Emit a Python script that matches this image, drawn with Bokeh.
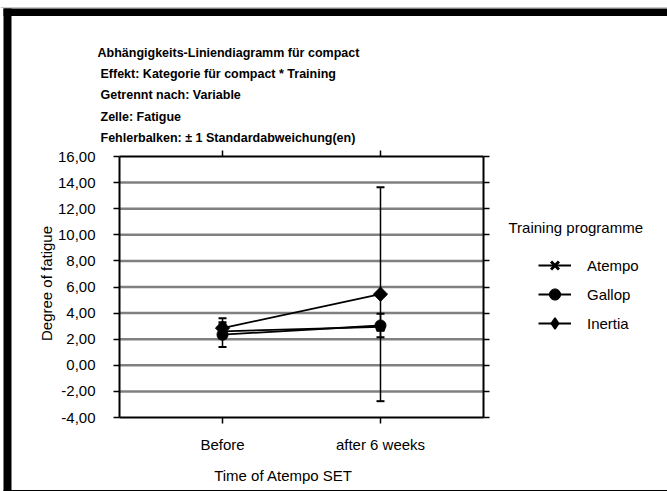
import numpy as np
from bokeh.plotting import figure
from bokeh.models import (ColumnDataSource, Range1d, FixedTicker, LinearAxis, Whisker, TeeHead,
                          Legend, LegendItem, Label, BoxAnnotation, Grid)
from bokeh.embed import file_html
from bokeh.resources import INLINE

# ---------------- data ----------------
categories = ["Before", "after 6 weeks"]
cat_pos = [1, 2]
series_names = ["Atempo", "Gallop", "Inertia"]
atempo_mean = [2.60, 2.95]
atempo_sd = [0.55, 0.30]
gallop_mean = [2.35, 3.05]
gallop_sd = [0.95, 0.90]
inertia_mean = [2.85, 5.45]
inertia_sd = [0.75, 8.20]
y_ticks = [-4, -2, 0, 2, 4, 6, 8, 10, 12, 14, 16]
y_tick_labels = ["-4,00", "-2,00", "0,00", "2,00", "4,00", "6,00", "8,00",
                 "10,00", "12,00", "14,00", "16,00"]
title_lines = ["Abhängigkeits-Liniendiagramm für compact",
               "Effekt: Kategorie für compact * Training",
               "Getrennt nach: Variable",
               "Zelle: Fatigue",
               "Fehlerbalken: ± 1 Standardabweichung(en)"]
legend_title = "Training programme"
x_title = "Time of Atempo SET"
y_title = "Degree of fatigue"

# ---------------- layout (pixels) ----------------
W, H = 667, 491
PL, PR, PT, PB = 119, 483, 156, 417          # plot area in canvas pixels
X_LO, X_HI = 0.348, 2.652                     # category axis extent
Y_LO, Y_HI = -4.0, 16.0
xs_per_px = (X_HI - X_LO) / (PR - PL)
ys_per_px = (Y_HI - Y_LO) / (PB - PT)
x_range = Range1d(X_LO - PL * xs_per_px, X_HI + (W - PR) * xs_per_px)
y_range = Range1d(Y_LO - (H - PB) * ys_per_px, Y_HI + PT * ys_per_px)

FONT = "Liberation Sans"

p = figure(width=W, height=H, x_range=x_range, y_range=y_range,
           output_backend="svg", toolbar_location=None,
           x_axis_location=None, y_axis_location=None,
           min_border=0, min_border_left=0, min_border_right=0,
           min_border_top=0, min_border_bottom=0)
p.center = [r for r in p.center if not isinstance(r, Grid)]
p.outline_line_color = None
p.background_fill_color = "white"
p.border_fill_color = "white"

yt = FixedTicker(ticks=y_ticks)
xt = FixedTicker(ticks=cat_pos)
ylab = {t: l for t, l in zip(y_ticks, y_tick_labels)}
xlab = {t: l for t, l in zip(cat_pos, categories)}

def style(ax, labels=True):
    ax.axis_line_color = "black"
    ax.axis_line_width = 2
    ax.major_tick_line_color = "black"
    ax.major_tick_line_width = 1.5
    ax.major_tick_in = 0
    ax.major_tick_out = 6
    ax.minor_tick_line_color = None
    ax.major_label_text_font = FONT
    ax.major_label_text_font_size = "15px"
    ax.major_label_text_color = "black" if labels else None

left = LinearAxis(ticker=yt, major_label_overrides=ylab, fixed_location=X_LO, bounds=(Y_LO, Y_HI))
style(left)
left.major_label_standoff = 18
right = LinearAxis(ticker=yt, fixed_location=X_HI, bounds=(Y_LO, Y_HI))
style(right, labels=False)
top = LinearAxis(ticker=xt, fixed_location=Y_HI, bounds=(X_LO, X_HI))
style(top, labels=False)
bottom = LinearAxis(ticker=xt, major_label_overrides=xlab, fixed_location=Y_LO, bounds=(X_LO, X_HI))
style(bottom)
bottom.major_label_standoff = 12
p.add_layout(left, "left")
p.add_layout(right, "right")
p.add_layout(top, "above")
p.add_layout(bottom, "below")

# horizontal grid lines inside the plot area
gy = y_ticks[1:-1]
p.segment(x0=[X_LO] * len(gy), x1=[X_HI] * len(gy), y0=gy, y1=gy,
          line_color="#808080", line_width=2.5, level="underlay")

series = [("Atempo", atempo_mean, atempo_sd, "x"),
          ("Gallop", gallop_mean, gallop_sd, "circle"),
          ("Inertia", inertia_mean, inertia_sd, "square")]

for name, m, s, mk in series:
    m = np.array(m, dtype=float)
    s = np.array(s, dtype=float)
    src = ColumnDataSource(dict(x=cat_pos, y=m, upper=m + s, lower=m - s))
    w = Whisker(base="x", upper="upper", lower="lower", source=src, dimension="height",
                line_color="black", line_width=1.5,
                upper_head=TeeHead(size=8, line_color="black", line_width=2),
                lower_head=TeeHead(size=8, line_color="black", line_width=2))
    p.add_layout(w)

items = []
for name, m, s, mk in series:
    src = ColumnDataSource(dict(x=cat_pos, y=m))
    lr = p.line("x", "y", source=src, line_color="black", line_width=1.8)
    if mk == "x":
        sr = p.scatter("x", "y", source=src, marker="x", size=11, line_color="black", line_width=3)
        leg = [lr, sr]
    elif mk == "circle":
        sr = p.scatter("x", "y", source=src, marker="circle", size=11, fill_color="black", line_color="black")
        leg = [lr, sr]
    else:
        # legend proxy (hidden beneath the rotated squares): the legend does not rotate markers
        proxy = p.scatter("x", "y", source=src, marker="diamond", size=13, fill_color="black",
                          line_color="black", line_width=1.5)
        sr = p.scatter("x", "y", source=src, marker="square", angle=np.pi / 4, size=10,
                       fill_color="black", line_color="black")
        leg = [lr, proxy]
    items.append(LegendItem(label=name, renderers=leg))

legend = Legend(items=items, location=(538, H - 337), orientation="vertical",
                glyph_width=33, glyph_height=28, label_height=20, spacing=1,
                label_standoff=16, padding=0, margin=0,
                border_line_color=None, background_fill_alpha=0,
                label_text_font=FONT, label_text_font_size="15px", label_text_color="black")
p.add_layout(legend)

# titles (screen units measured from the canvas bottom-left)
ty = [52, 73, 94, 116, 137]
tx = [97, 100, 100, 100, 100]
for t, x, y in zip(title_lines, tx, ty):
    p.add_layout(Label(x=x, y=H - y, x_units="screen", y_units="screen", text=t,
                       text_font=FONT, text_font_style="bold", text_font_size="12.5px",
                       text_baseline="middle", text_align="left", text_color="black"))

p.add_layout(Label(x=508, y=H - 227, x_units="screen", y_units="screen", text=legend_title,
                   text_font=FONT, text_font_size="15px", text_baseline="middle", text_align="left",
                   text_color="black"))
p.add_layout(Label(x=283, y=H - 475, x_units="screen", y_units="screen", text=x_title,
                   text_font=FONT, text_font_size="15px", text_baseline="middle", text_align="center",
                   text_color="black"))
p.add_layout(Label(x=46, y=H - 283, x_units="screen", y_units="screen", text=y_title, angle=np.pi / 2,
                   text_font=FONT, text_font_size="15px", text_baseline="middle", text_align="center",
                   text_color="black"))

# outer frame of the original picture
frame_boxes = [(0, W, H - 6.5, H - 7.5, "#c8c8c8"),
               (3, W, H - 8, H - 15.5, "black"),
               (3, 11, H - 8, 0, "black"),
               (3, W, 1.5, 0, "black")]
for l, r, t, b, c in frame_boxes:
    p.add_layout(BoxAnnotation(left=l, right=r, top=t, bottom=b,
                               left_units="screen", right_units="screen",
                               top_units="screen", bottom_units="screen",
                               fill_color=c, fill_alpha=1, line_color=None, level="overlay"))

open("out.html", "w").write(file_html(p, INLINE))
